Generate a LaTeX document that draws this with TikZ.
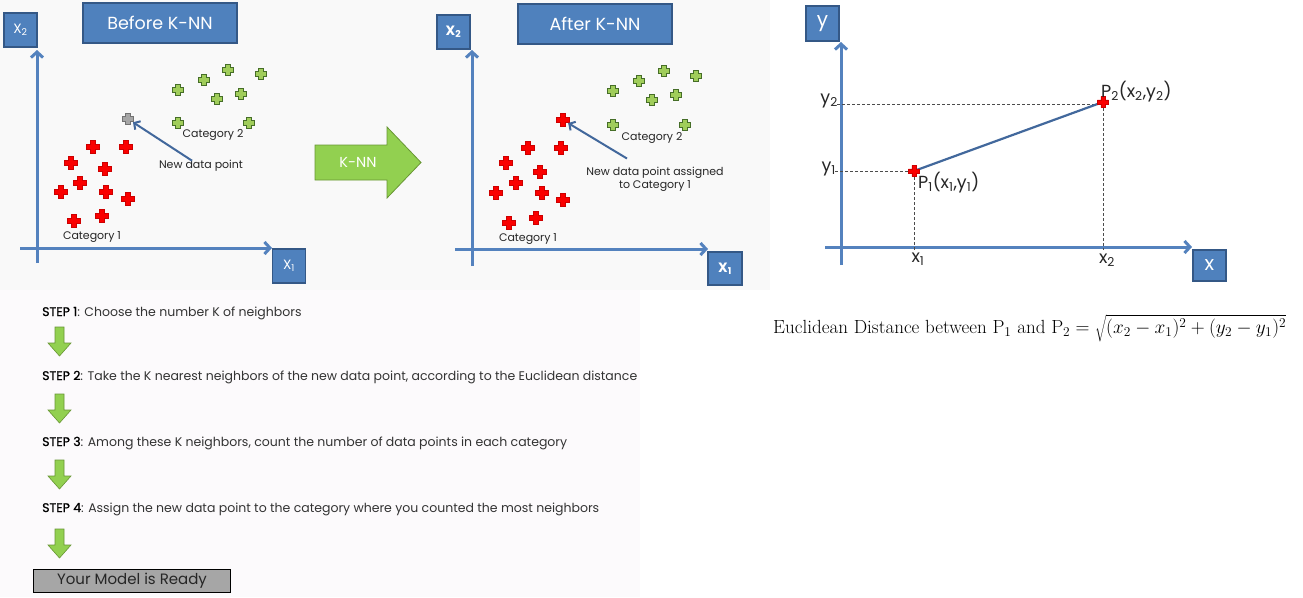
\documentclass[tikz,border=0pt]{standalone}
\usepackage{graphicx}
\usepackage{fontspec}
\setsansfont{Poppins}
\newfontfamily\stepfont{Poppins}[FakeBold=0.9]
\usetikzlibrary{arrows.meta}
\definecolor{axisblue}{RGB}{84,130,190}
\definecolor{boxblue}{RGB}{79,129,189}
\definecolor{boxedge}{RGB}{52,88,134}
\definecolor{ptrblue}{RGB}{66,104,156}
\definecolor{gfill}{RGB}{146,208,80}
\definecolor{gedge}{RGB}{104,150,52}
\definecolor{pgfill}{RGB}{160,205,90}
\definecolor{pgedge}{RGB}{70,110,40}
\definecolor{rfill}{RGB}{250,0,0}
\definecolor{redge}{RGB}{205,0,0}
\definecolor{panelgray}{RGB}{249,249,249}
\definecolor{panelpink}{RGB}{252,250,252}
\definecolor{modelgray}{RGB}{166,166,166}
\begin{document}
\begin{tikzpicture}[x=1pt,y=-1pt,
  bluebox/.style={draw=boxedge,line width=1.2pt,fill=boxblue,text=white,inner sep=0pt,font=\sffamily},
  axis/.style={draw=axisblue,line width=3pt,-{Straight Barb[length=5.5pt,width=12pt]}},
  ptr/.style={draw=ptrblue,line width=2pt,-{Straight Barb[length=4.5pt,width=10pt]}},
  lbl/.style={inner sep=0pt,font=\sffamily\fontsize{11}{13.2}\selectfont,text=black!85,align=center},
  coord/.style={inner sep=0pt,font=\sffamily\fontsize{17.5}{19}\selectfont,text=black!85},
  steptext/.style={inner sep=0pt,anchor=base west,font=\sffamily\fontsize{12.5}{15}\selectfont,text=black!80},
  guide/.style={draw=black!70,line width=0.7pt,dash pattern=on 3pt off 2pt},
  plusmark/.pic={\path[pic actions] (-2.4,-6.7)--(2.4,-6.7)--(2.4,-2.4)--(6.7,-2.4)--(6.7,2.4)--(2.4,2.4)--(2.4,6.7)--(-2.4,6.7)--(-2.4,2.4)--(-6.7,2.4)--(-6.7,-2.4)--(-2.4,-2.4)--cycle;},
  redp/.style={fill=rfill,draw=redge,line width=0.5pt},
  greenp/.style={fill=pgfill,draw=pgedge,line width=0.9pt,scale=0.88},
  grayp/.style={fill=black!35,draw=black!55,line width=0.9pt,scale=0.88},
  downarrow/.pic={\path[fill=gfill,draw=gedge,line width=0.6pt] (-4.5,0)--(4.5,0)--(4.5,16)--(11.5,16)--(0,29)--(-11.5,16)--(-4.5,16)--cycle;}
]
\useasboundingbox (0,0) rectangle (1303,597);
\fill[white] (0,0) rectangle (1303,597);
\fill[panelgray] (0,0) rectangle (770,290);
\fill[panelpink] (0,290) rectangle (640,597);

% ---------------- Left plot: Before K-NN
\node[bluebox,minimum width=154,minimum height=40,font=\sffamily\fontsize{17.5}{20}\selectfont] (before) at (160,23) {Before K-NN};
\node[bluebox,minimum width=33,minimum height=34,font=\sffamily\fontsize{13.5}{15}\selectfont] (lx2) at (20.5,30) {X\textsubscript{2}};
\node[bluebox,minimum width=33,minimum height=34,font=\sffamily\fontsize{13.5}{15}\selectfont] (lx1) at (289,266) {X\textsubscript{1}};
\coordinate (lyb) at (37,263); \coordinate (lyt) at (37,50);
\coordinate (lxl) at (20,248); \coordinate (lxr) at (272,248);
\draw[axis] (lyb) -- (lyt);
\draw[axis] (lxl) -- (lxr);
\foreach \p in {(93,147),(126,147),(71,163),(105,169),(80,183),(61,192),(106,192),(128,199),(74,221),(102,216)}
  \pic[redp] at \p {plusmark};
\foreach \p in {(228,70),(261,74),(204,80),(178,90),(241,94),(217,99),(178,123),(249,123)}
  \pic[greenp] at \p {plusmark};
\coordinate (lnew) at (128,119);
\pic[grayp] at (lnew) {plusmark};
\node[lbl] (lcat2) at (213,135) {Category 2};
\node[lbl] (lnewlbl) at (201,165.5) {New data point};
\node[lbl] (lcat1) at (92,237) {Category 1};
\draw[ptr,shorten >=6pt] ([xshift=-9pt,yshift=-1pt]lnewlbl.north) -- (lnew);

% ---------------- K-NN arrow
\draw[fill=gfill,draw=gedge,line width=0.8pt] (315,145)--(387,145)--(387,127)--(421,162.5)--(387,198)--(387,180)--(315,180)--cycle;
\node[inner sep=0pt,text=white,font=\sffamily\fontsize{14.5}{17}\selectfont] (knn) at (358,162.5) {K-NN};

% ---------------- Middle plot: After K-NN
\node[bluebox,minimum width=154,minimum height=40,font=\sffamily\fontsize{17.5}{20}\selectfont] (after) at (595,24) {After K-NN};
\node[bluebox,minimum width=33,minimum height=34,font=\sffamily\bfseries\fontsize{13.5}{15}\selectfont] (mx2) at (453.5,32) {X\textsubscript{2}};
\node[bluebox,minimum width=34,minimum height=33,font=\sffamily\bfseries\fontsize{13.5}{15}\selectfont] (mx1) at (725,268.5) {X\textsubscript{1}};
\coordinate (myb) at (472,266); \coordinate (myt) at (472,50);
\coordinate (mxl) at (455,249); \coordinate (mxr) at (708,249);
\draw[axis] (myb) -- (myt);
\draw[axis] (mxl) -- (mxr);
\foreach \p in {(528,148),(561,148),(506,163),(540,172),(516,183),(496,193),(542,193),(563,200),(509,223),(536,218)}
  \pic[redp] at \p {plusmark};
\foreach \p in {(664,71),(696,76),(639,81),(613,91),(676,95),(652,100),(613,125),(685,125)}
  \pic[greenp] at \p {plusmark};
\coordinate (mnew) at (563,120);
\pic[redp] at (mnew) {plusmark};
\node[lbl] (mcat2) at (652,138) {Category 2};
\node[lbl] (mnewlbl) at (655,179) {New data point assigned\\to Category 1};
\node[lbl] (mcat1) at (528,239) {Category 1};
\draw[ptr,shorten >=6pt] ([xshift=-28pt,yshift=8pt]mnewlbl.north) -- (mnew);

% ---------------- Right plot: Euclidean distance
\node[bluebox,minimum width=33,minimum height=35,font=\sffamily\fontsize{20}{22}\selectfont] (ry) at (822.5,23.5) {y};
\node[bluebox,minimum width=33,minimum height=31,font=\sffamily\fontsize{20}{22}\selectfont] (rx) at (1209.5,265.5) {x};
\coordinate (ryb) at (841,265); \coordinate (ryt) at (841,42);
\coordinate (rxl) at (825,247); \coordinate (rxr) at (1192,247);
\draw[axis] (ryb) -- (ryt);
\draw[axis] (rxl) -- (rxr);
\coordinate (P1) at (914,171);
\coordinate (P2) at (1103,102);
\coordinate (y1d) at (835,171); \coordinate (x1d) at (914,250);
\coordinate (y2d) at (837,104); \coordinate (x2d) at (1103,250);
\draw[guide] (y1d) -- (P1) -- (x1d);
\draw[guide] (y2d) -- (1103,104) -- (x2d);
\draw[draw=ptrblue,line width=2.2pt] (P1) -- (P2);
\pic[redp,scale=0.85] at (P1) {plusmark};
\pic[redp,scale=0.85] at (P2) {plusmark};
\node[coord,anchor=east] (ly1) at (836,169) {y\textsubscript{1}};
\node[coord,anchor=east] (ly2) at (838,101) {y\textsubscript{2}};
\node[coord] (lx1b) at (918,259) {x\textsubscript{1}};
\node[coord] (lx2b) at (1107,260) {x\textsubscript{2}};
\node[coord,anchor=west] (lp1) at (918,183) {P\textsubscript{1}(x\textsubscript{1},y\textsubscript{1})};
\node[coord,anchor=west] (lp2) at (1101,92) {P\textsubscript{2}(x\textsubscript{2},y\textsubscript{2})};

% ---------------- Formula
\node[inner sep=0pt,anchor=west,font=\rmfamily\fontsize{17}{20}\selectfont] (eq) at (773,328) {\resizebox{513pt}{!}{Euclidean Distance between P$_1$ and P$_2=\sqrt{(x_2-x_1)^2+(y_2-y_1)^2}$}};

% ---------------- Steps
\node[steptext] (s1) at (42,316) {{\stepfont\color{black}STEP 1}: Choose the number K of neighbors};
\pic at (59.5,327) {downarrow};
\node[steptext] (s2) at (42,380) {{\stepfont\color{black}STEP 2}: Take the K nearest neighbors of the new data point, according to the Euclidean distance};
\pic at (59.5,394) {downarrow};
\node[steptext] (s3) at (42,446) {{\stepfont\color{black}STEP 3}: Among these K neighbors, count the number of data points in each category};
\pic at (59.5,460) {downarrow};
\node[steptext] (s4) at (42,512) {{\stepfont\color{black}STEP 4}: Assign the new data point to the category where you counted the most neighbors};
\pic at (59.5,529) {downarrow};
\node[draw=black,line width=1.6pt,fill=modelgray,minimum width=197,minimum height=23,inner sep=0pt,font=\sffamily\fontsize{15}{17}\selectfont,text=black!85] (ready) at (132,581) {Your Model is Ready};
\end{tikzpicture}
\end{document}
